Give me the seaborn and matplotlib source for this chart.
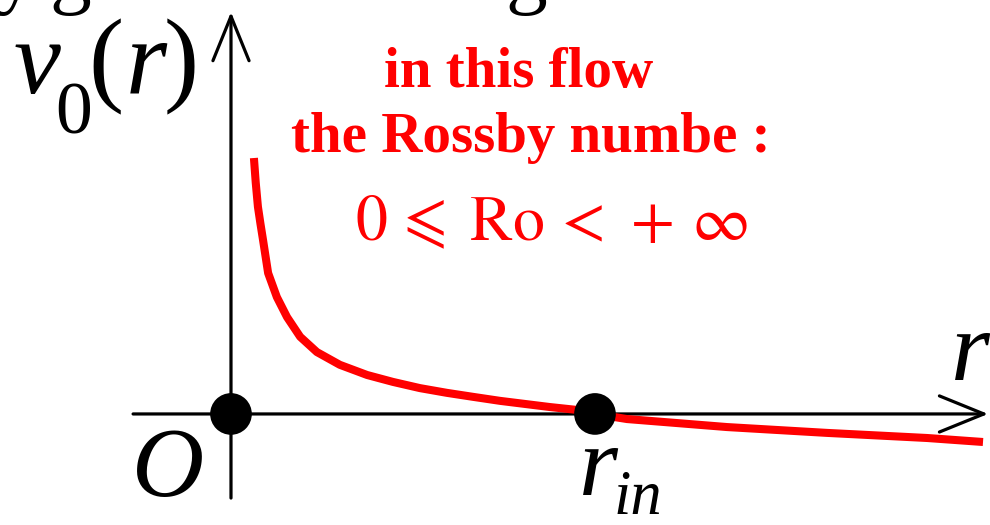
import matplotlib
matplotlib.use("Agg")
import matplotlib.pyplot as plt
import seaborn as sns
import pandas as pd

# Azimuthal velocity profile v0(r): steep near the axis, zero at r_in, slightly negative beyond
r_curve = [0.063, 0.068, 0.074, 0.081, 0.088, 0.102, 0.126, 0.154, 0.190, 0.236,
           0.299, 0.374, 0.445, 0.519, 0.593, 0.665, 0.739, 0.876, 0.951, 1.000,
           1.088, 1.363, 1.637, 1.912, 2.066]
v_curve = [0.703, 0.635, 0.569, 0.522, 0.478, 0.387, 0.321, 0.266, 0.212, 0.170,
           0.135, 0.107, 0.088, 0.071, 0.058, 0.047, 0.036, 0.019, 0.011, 0.000,
           -0.014, -0.036, -0.052, -0.066, -0.077]

# Marked points: origin O and inner radius r_in
dot_r = [0.0, 1.0]
dot_v = [0.0, 0.0]

profile = pd.DataFrame({"r": r_curve, "v": v_curve})
marks = pd.DataFrame({"r": dot_r, "v": dot_v})

sns.set_theme(style="white")
plt.rcParams["mathtext.fontset"] = "stix"
plt.rcParams["font.family"] = ["Liberation Serif", "DejaVu Serif"]

fig = plt.figure(figsize=(9.9, 5.25), dpi=100)
ax = fig.add_axes([0, 0, 1, 1])
ax.set_xlim(-0.6346, 2.0852)
ax.set_ylim(-0.305, 1.137)
ax.axis("off")

# Coordinate axes with open arrow heads
arrow = dict(arrowstyle="->,head_length=32,head_width=13", mutation_scale=1,
             lw=2.3, color="black", shrinkA=0, shrinkB=0)
ax.annotate("", xy=(2.080, 0.0), xytext=(-0.269, 0.0), arrowprops=arrow)
ax.annotate("", xy=(0.0, 1.104), xytext=(0.0, -0.231), arrowprops=arrow)

sns.lineplot(data=profile, x="r", y="v", sort=False, color="#ff0000", lw=5.8,
             ax=ax, zorder=3, solid_joinstyle="round", solid_capstyle="butt")
sns.scatterplot(data=marks, x="r", y="v", s=900, color="black", edgecolor="none",
                ax=ax, zorder=5, legend=False)

# Axis labels (italic serif, subscripts set low as in hand-typeset formulas)
lab = dict(color="black", ha="left", va="baseline", fontstyle="italic")
ax.text(-0.597, 0.882, "v", fontsize=76, **lab)
ax.text(-0.484, 0.769, "0", fontsize=53, color="black", ha="left", va="baseline")
ax.text(-0.392, 0.882, "(", fontsize=76, color="black", ha="left", va="baseline")
ax.text(-0.290, 0.882, "r", fontsize=76, **lab)
ax.text(-0.186, 0.882, ")", fontsize=76, color="black", ha="left", va="baseline")

ax.text(-0.173, -0.225, "O", fontsize=72, color="black", ha="center", va="baseline",
        fontstyle="italic")
ax.text(2.03, 0.093, "r", fontsize=72, color="black", ha="center", va="baseline",
        fontstyle="italic")
ax.text(0.955, -0.223, "r", fontsize=72, **lab)
ax.text(1.050, -0.276, "in", fontsize=45, **lab)

# Annotation
ax.text(0.791, 0.898, "in this flow", fontsize=41, fontweight="bold", color="#ff0000",
        ha="center", va="baseline")
ax.text(0.824, 0.720, "the Rossby numbe :", fontsize=41, fontweight="bold", color="#ff0000",
        ha="center", va="baseline")
ax.text(0.882, 0.478, r"$0\,\leqslant\;\mathrm{Ro}\,<\,+\,\infty$", fontsize=46,
        color="#ff0000", ha="center", va="baseline")

# Descenders of the heading line above the figure edge
top = dict(fontsize=60, color="black", ha="left", va="baseline", clip_on=False)
ax.text(-0.648, 1.143, "y", **top)
ax.text(-0.500, 1.143, "g", **top)
ax.text(0.753, 1.143, "g", **top)

fig.savefig("out.png", dpi=100)
